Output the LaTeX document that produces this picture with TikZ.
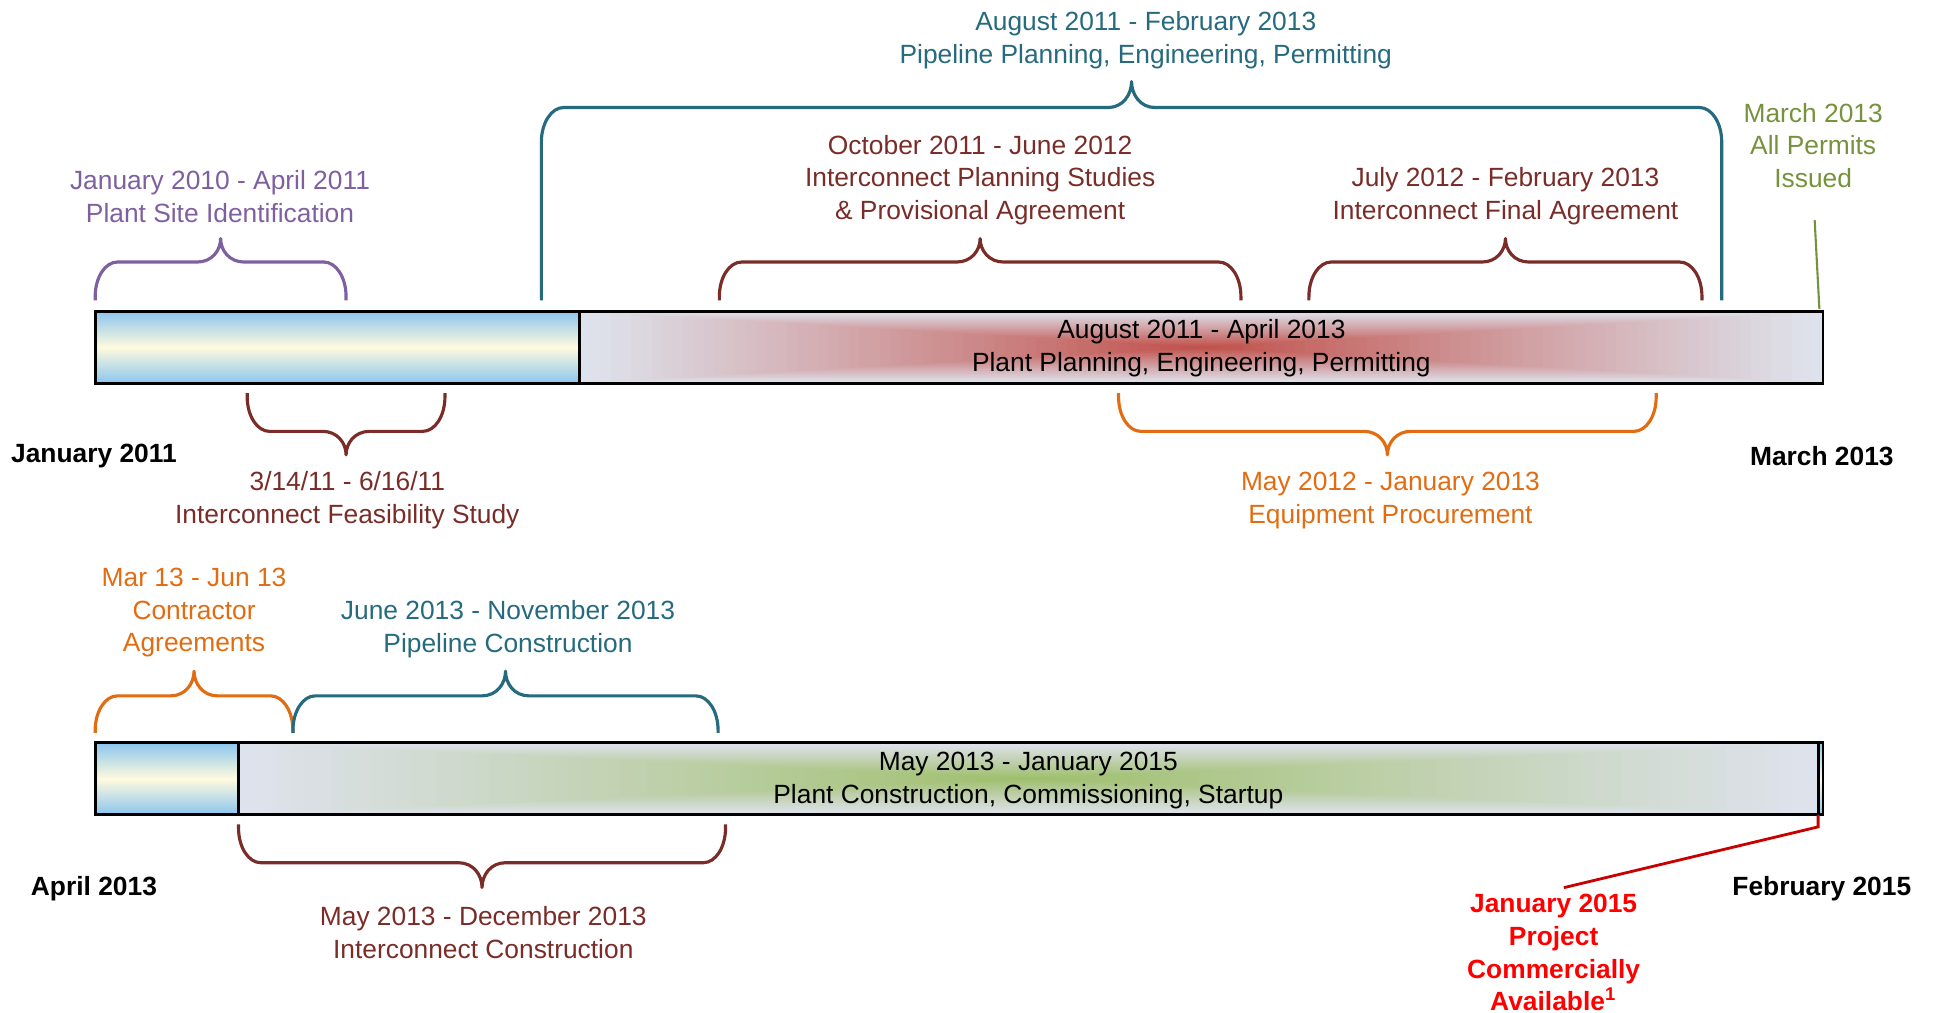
\documentclass[tikz,border=0pt]{standalone}
\usepackage{fontspec}
\setmainfont{Liberation Sans}
\usepackage{tikz}
\usetikzlibrary{calc}
\definecolor{tealc}{RGB}{38,106,126}
\definecolor{brownc}{RGB}{122,44,40}
\definecolor{purplec}{RGB}{126,96,160}
\definecolor{orangec}{RGB}{226,108,18}
\definecolor{olivec}{RGB}{118,146,60}
\definecolor{calloutred}{RGB}{200,0,0}
\definecolor{barbase}{RGB}{222,226,236}
\definecolor{glowred}{RGB}{192,78,72}
\definecolor{glowgreen}{RGB}{158,190,106}
\definecolor{barblue}{RGB}{140,198,238}
\definecolor{barcream}{RGB}{255,250,222}
\tikzset{
    lbl/.style={
           align=center,
           inner sep=1pt,
           yshift=-0.8pt,
           font=\fontsize{7.5}{9.3}\selectfont,
           },
    datelbl/.style={
           lbl,
           font=\fontsize{7.5}{9.3}\selectfont\bfseries,
           },
    brc/.style={
           line width=0.9pt,
           line join=round,
           },
    outline/.style={
           draw=black,
           line width=0.8pt,
           },
    bluefill/.style={
           top color=barblue,
           bottom color=barblue,
           middle color=barcream,
           },
}
% brace: [colour]{x1}{x2}{y of ends}{y of line}{y of tip}
\newcommand\tbrace[6][]{%
  \pgfmathsetmacro\bmid{(#2+#3)/2}
  \pgfmathsetmacro\bsgn{sign(#4-#5)}
  \draw[brc,#1] (#2,#4) -- (#2,{#5+28*\bsgn}) .. controls (#2,{#5+12.5*\bsgn}) and ({#2+8},#5) .. ({#2+18},#5)
    -- ({\bmid-19},#5) .. controls ({\bmid-7},#5) and (\bmid,{(#5+#6)/2}) .. (\bmid,#6)
    .. controls (\bmid,{(#5+#6)/2}) and ({\bmid+7},#5) .. ({\bmid+19},#5)
    -- ({#3-18},#5) .. controls ({#3-8},#5) and (#3,{#5+12.5*\bsgn}) .. (#3,{#5+28*\bsgn}) -- (#3,#4);}
% glowing bar segment: {x1}{x2}{y1}{y2}{colour}
\newcommand\glowbar[5]{%
  \fill[barbase] (#1,#3) rectangle (#2,#4);
  \foreach \k in {1,...,60}{
    \pgfmathsetmacro\fr{1-\k/60}
    \pgfmathtruncatemacro\pc{100*(\k/60)^1.05}
    \fill[#5!\pc!barbase] ({(#1+#2)/2-(#2-#1)/2*\fr},{(#3+#4)/2-(#4-#3)/2*\fr})
      rectangle ({(#1+#2)/2+(#2-#1)/2*\fr},{(#3+#4)/2+(#4-#3)/2*\fr});
  }}

\begin{document}
\begin{tikzpicture}[x=0.01236cm,y=-0.01236cm]
\useasboundingbox (0,0) rectangle (1568,819);

% first phase
\glowbar{469}{1475}{252}{310}{glowred}
\shade[bluefill] (77,252) rectangle (469,310);
\draw[outline] (77,252) rectangle (1475,310);
\draw[outline] (469,252) -- (469,310);
\node[lbl] (plant) at (972,279.5) {August 2011 - April 2013\\Plant Planning, Engineering, Permitting};
\node[datelbl] (jan11) at (76,367) {January 2011};
\node[datelbl] (mar13) at (1474,367) {March 2013};

\tbrace[purplec]{77}{280}{243}{212}{193}
\node[lbl,text=purplec] (site) at (178,156.5) {January 2010 - April 2011\\Plant Site Identification};
\tbrace[tealc]{438}{1393}{243}{87}{66}
\node[lbl,text=tealc] (pipeplan) at (927,30.5) {August 2011 - February 2013\\Pipeline Planning, Engineering, Permitting};
\tbrace[brownc]{582}{1004}{243}{212}{193}
\node[lbl,text=brownc] (studies) at (793,143.5) {October 2011 - June 2012\\Interconnect Planning Studies\\\& Provisional Agreement};
\tbrace[brownc]{1059}{1377}{243}{212}{193}
\node[lbl,text=brownc] (final) at (1218,156.5) {July 2012 - February 2013\\Interconnect Final Agreement};
\node[lbl,text=olivec] (permits) at (1467,115.5) {March 2013\\All Permits\\Issued};
\coordinate (permend) at (1472,250);
\draw[olivec,line width=0.6pt,shorten <=8pt] (permits.south) -- (permend);

\tbrace[brownc]{200}{360}{318}{349}{368}
\node[lbl,text=brownc] (feas) at (281,402.5) {3/14/11 - 6/16/11\\Interconnect Feasibility Study};
\tbrace[orangec]{905}{1340}{318}{349}{368}
\node[lbl,text=orangec] (procure) at (1125,402.5) {May 2012 - January 2013\\Equipment Procurement};

% second phase
\glowbar{193}{1471}{601}{659}{glowgreen}
\shade[bluefill] (77,601) rectangle (193,659);
\shade[bluefill] (1471,601) rectangle (1475,659);
\draw[outline] (77,601) rectangle (1475,659);
\draw[outline] (193,601) -- (193,659);
\draw[outline] (1471,601) -- (1471,659);
\node[lbl] (build) at (832,629.5) {May 2013 - January 2015\\Plant Construction, Commissioning, Startup};
\node[datelbl] (apr13) at (76,717) {April 2013};
\node[datelbl] (feb15) at (1474,717) {February 2015};

\tbrace[orangec]{77}{237}{593}{563}{543}
\node[lbl,text=orangec] (contract) at (157,493.5) {Mar 13 - Jun 13\\Contractor\\Agreements};
\tbrace[tealc]{237}{581}{593}{563}{543}
\node[lbl,text=tealc] (pipebuild) at (411,506.5) {June 2013 - November 2013\\Pipeline Construction};
\tbrace[brownc]{193}{587}{667}{698}{718}
\node[lbl,text=brownc] (icbuild) at (391,752.5) {May 2013 - December 2013\\Interconnect Construction};

\node[datelbl,text=red] (avail) at (1257,768.5) {January 2015\\Project\\Commercially\\Available\textsuperscript{1}};
\coordinate (cod) at (1471,659);
\draw[calloutred,line width=0.8pt,shorten >=3pt] (cod) -- ++(0,10) -- (avail.north);
\end{tikzpicture}
\end{document}
